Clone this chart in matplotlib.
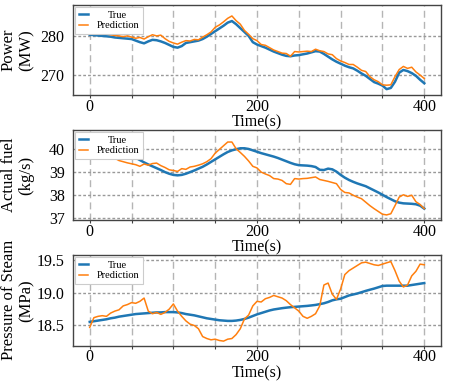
import numpy as np
import matplotlib
matplotlib.use("Agg")
import matplotlib.pyplot as plt
from matplotlib.ticker import MultipleLocator, FuncFormatter

plt.rcParams['font.family'] = 'serif'
plt.rcParams['font.serif'] = ['Liberation Serif', 'DejaVu Serif']
plt.rcParams['mathtext.fontset'] = 'stix'

# time axis (s), sampled every 5 s
time = list(range(0, 401, 5))

power_true = [280.3, 280.2, 280.1, 280.0, 279.9, 279.8, 279.6, 279.5, 279.4, 279.3,
              279.2, 278.8, 278.4, 278.1, 278.6, 279.0, 278.9, 278.6, 278.2, 277.7,
              277.2, 277.0, 277.4, 278.2, 278.4, 278.6, 278.8, 279.2, 279.8, 280.5,
              281.2, 281.9, 282.6, 283.4, 283.8, 283.0, 282.0, 281.0, 280.0, 278.4,
              277.8, 277.4, 277.0, 276.5, 276.0, 275.6, 275.2, 274.9, 274.8, 275.0,
              275.1, 275.3, 275.5, 275.8, 276.1, 276.0, 275.4, 274.7, 274.0, 273.4,
              272.9, 272.4, 272.0, 271.7, 271.1, 270.4, 269.8, 269.0, 268.2, 267.8,
              267.3, 266.4, 266.7, 268.3, 270.6, 271.3, 271.0, 270.5, 269.8, 268.8,
              267.9]
power_pred = [281.0, 280.8, 280.9, 280.6, 280.5, 280.3, 280.1, 280.0, 279.8, 280.0,
              279.7, 279.4, 279.6, 279.2, 279.8, 280.3, 280.0, 280.2, 279.3, 278.6,
              278.2, 277.9, 278.4, 278.8, 278.7, 279.1, 279.0, 279.7, 280.3, 281.0,
              282.2, 282.8, 283.6, 284.5, 285.1, 283.9, 283.0, 281.4, 280.4, 279.3,
              278.8, 277.8, 277.6, 277.0, 276.4, 276.0, 275.6, 275.5, 274.8, 276.0,
              275.9, 276.0, 276.1, 276.0, 276.6, 276.2, 276.0, 275.4, 275.2, 274.2,
              273.6, 273.2, 272.7, 272.7, 272.0, 271.2, 270.9, 269.6, 268.8, 268.3,
              267.5, 267.4, 267.5, 269.6, 271.4, 272.2, 271.7, 272.0, 270.8, 270.0,
              269.1]

fuel_true = [40.25, 40.20, 40.12, 40.05, 39.98, 39.92, 39.86, 39.80, 39.75, 39.70,
             39.66, 39.62, 39.52, 39.42, 39.33, 39.25, 39.17, 39.09, 39.00, 38.93,
             38.88, 38.86, 38.88, 38.93, 39.00, 39.07, 39.15, 39.23, 39.33, 39.44,
             39.55, 39.66, 39.77, 39.87, 39.94, 39.99, 40.03, 40.03, 40.00, 39.94,
             39.88, 39.82, 39.77, 39.72, 39.67, 39.61, 39.54, 39.47, 39.40, 39.34,
             39.30, 39.29, 39.28, 39.26, 39.22, 39.10, 39.09, 39.15, 39.12, 39.02,
             38.88, 38.76, 38.66, 38.58, 38.51, 38.45, 38.39, 38.30, 38.21, 38.12,
             38.02, 37.92, 37.83, 37.74, 37.68, 37.65, 37.64, 37.63, 37.61, 37.55,
             37.42]
fuel_pred = [40.66, 40.40, 40.10, 39.95, 39.80, 39.70, 39.60, 39.50, 39.45, 39.40,
             39.36, 39.32, 39.25, 39.35, 39.30, 39.37, 39.39, 39.28, 39.20, 39.10,
             39.07, 39.03, 39.15, 39.12, 39.22, 39.25, 39.30, 39.36, 39.45, 39.58,
             39.82, 39.98, 40.14, 40.30, 40.30, 40.01, 39.85, 39.68, 39.48, 39.25,
             39.18, 39.00, 38.92, 38.85, 38.72, 38.70, 38.64, 38.50, 38.47, 38.72,
             38.70, 38.72, 38.73, 38.76, 38.79, 38.68, 38.64, 38.60, 38.55, 38.50,
             38.25, 38.12, 38.10, 38.00, 37.92, 37.85, 37.70, 37.55, 37.42, 37.30,
             37.18, 37.15, 37.20, 37.55, 37.92, 38.02, 37.95, 38.00, 37.72, 37.60,
             37.42]

steam_true = [18.555, 18.565, 18.575, 18.585, 18.595, 18.610, 18.620, 18.635, 18.645, 18.655,
              18.665, 18.675, 18.680, 18.685, 18.690, 18.695, 18.700, 18.700, 18.705, 18.705,
              18.705, 18.700, 18.690, 18.675, 18.665, 18.655, 18.640, 18.625, 18.610, 18.600,
              18.590, 18.580, 18.575, 18.570, 18.570, 18.575, 18.585, 18.600, 18.620, 18.645,
              18.670, 18.690, 18.710, 18.730, 18.745, 18.755, 18.765, 18.773, 18.780, 18.785,
              18.790, 18.795, 18.800, 18.807, 18.815, 18.827, 18.840, 18.860, 18.885, 18.900,
              18.910, 18.935, 18.960, 18.975, 18.990, 19.010, 19.030, 19.048, 19.065, 19.085,
              19.105, 19.110, 19.110, 19.110, 19.110, 19.110, 19.110, 19.120, 19.130, 19.140,
              19.150]
steam_pred = [18.47, 18.62, 18.64, 18.65, 18.64, 18.69, 18.72, 18.74, 18.80, 18.82,
              18.85, 18.84, 18.87, 18.92, 18.72, 18.68, 18.70, 18.67, 18.70, 18.75,
              18.83, 18.72, 18.64, 18.57, 18.52, 18.50, 18.45, 18.33, 18.30, 18.28,
              18.29, 18.27, 18.26, 18.29, 18.30, 18.36, 18.45, 18.60, 18.66, 18.80,
              18.87, 18.86, 18.91, 18.93, 18.96, 18.94, 18.92, 18.88, 18.82, 18.77,
              18.72, 18.64, 18.61, 18.64, 18.68, 18.80, 19.12, 19.15, 18.98, 18.90,
              19.06, 19.28, 19.34, 19.38, 19.42, 19.46, 19.47, 19.45, 19.43, 19.42,
              19.44, 19.46, 19.48, 19.34, 19.18, 19.09, 19.12, 19.26, 19.33, 19.44,
              19.43]

ylabels = ["Power\n(MW)", "Actual fuel\n(kg/s)", "Pressure of Steam\n(MPa)"]
xlabel = "Time(s)"
legend_labels = ["True", "Prediction"]
yticks_list = [[270, 280], [37, 38, 39, 40], [18.5, 19.0, 19.5]]
ylims = [(264.9, 287.9), (36.93, 40.82), (18.19, 19.58)]
yfmt = ["{:.0f}", "{:.0f}", "{:.1f}"]
series = [(power_true, power_pred), (fuel_true, fuel_pred), (steam_true, steam_pred)]

W, H = 449, 381
fig = plt.figure(figsize=(W / 100, H / 100), dpi=100)
panels_px = [(5, 95), (130, 220), (255, 345.7)]
left_px, right_px = 73, 441

c_true = '#1f77b4'
c_pred = '#ff7f0e'

for i, ((top, bot), (yt, yp)) in enumerate(zip(panels_px, series)):
    ax = fig.add_axes([left_px / W, 1 - bot / H, (right_px - left_px) / W, (bot - top) / H])
    ax.plot(time, yt, color=c_true, lw=1.8, label=legend_labels[0], zorder=3)
    ax.plot(time, yp, color=c_pred, lw=1.1, label=legend_labels[1], zorder=4)
    ax.set_xlim(-20, 420)
    ax.set_ylim(*ylims[i])
    ax.xaxis.set_major_locator(MultipleLocator(50))
    ax.xaxis.set_major_formatter(FuncFormatter(lambda v, p: f"{v:.0f}" if abs(v % 200) < 1e-6 else ""))
    ax.set_yticks(yticks_list[i])
    ax.set_yticklabels([yfmt[i].format(v) for v in yticks_list[i]])
    ax.tick_params(axis='x', length=2.2, width=0.8, color='#404040', labelsize=11.5, pad=0.5)
    ax.tick_params(axis='y', length=0, labelsize=11.5, pad=6)
    ax.grid(axis='x', color='#b5b5b5', linestyle=(0, (5, 3)), lw=1.0, zorder=0)
    ax.grid(axis='y', color='#999999', linestyle=(0, (2, 1.5)), lw=1.0, zorder=0)
    for s in ax.spines.values():
        s.set_color('#444444')
        s.set_linewidth(1.0)
    ax.set_xlabel(xlabel, fontsize=11.5, labelpad=0)
    ax.set_ylabel(ylabels[i], fontsize=12, va='center', ha='center', linespacing=1.15)
    ax.yaxis.set_label_coords(-0.15, 0.5)
    leg = ax.legend(loc='upper left', fontsize=7.5, handlelength=0.9, handletextpad=0.8,
                    borderpad=0.35, labelspacing=0.1, borderaxespad=0.2,
                    fancybox=False, framealpha=1, edgecolor='#cccccc')
    leg.get_frame().set_linewidth(0.8)
    leg.set_zorder(10)
    fig.canvas.draw()
    r = fig.canvas.get_renderer()
    texts = leg.get_texts()
    widths = [t.get_window_extent(r).width for t in texts]
    wmax = max(widths)
    for t, w in zip(texts, widths):
        t.set_position(((wmax - w) / 2, 0))

fig.savefig("out.png", dpi=100)
